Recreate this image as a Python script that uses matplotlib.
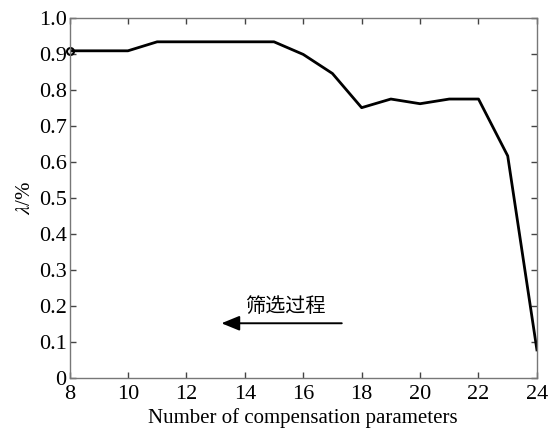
import matplotlib
matplotlib.use("Agg")
import matplotlib.pyplot as plt

plt.rcParams['font.family'] = ['Liberation Serif', 'Noto Sans CJK SC']
plt.rcParams['mathtext.fontset'] = 'stix'

# --- Datos ---
n_params = [8, 9, 10, 11, 12, 13, 14, 15, 16, 17, 18, 19, 20, 21, 22, 23, 24]
lam = [0.909, 0.909, 0.909, 0.934, 0.934, 0.934, 0.934, 0.934, 0.899, 0.846,
       0.751, 0.775, 0.762, 0.775, 0.775, 0.617, 0.078]
x_ticks = [8, 10, 12, 14, 16, 18, 20, 22, 24]
y_ticks = [0, 0.1, 0.2, 0.3, 0.4, 0.5, 0.6, 0.7, 0.8, 0.9, 1.0]
y_tick_labels = ['0', '0.1', '0.2', '0.3', '0.4', '0.5', '0.6', '0.7', '0.8', '0.9', '1.0']

fig = plt.figure(figsize=(5.49, 4.30), dpi=100)
ax = fig.add_axes([0.1266, 0.121, 0.8514, 0.837])

ax.plot(n_params, lam, color='black', linewidth=2.0)
ax.plot(n_params[0], lam[0], marker='o', markersize=5, markerfacecolor='none',
        markeredgecolor='black', markeredgewidth=1.5, clip_on=False)

ax.set_xlim(8, 24)
ax.set_ylim(0, 1.0)
ax.set_xticks(x_ticks)
ax.set_yticks(y_ticks)
ax.set_yticklabels(y_tick_labels)
ax.tick_params(direction='in', top=True, right=True, labelsize=16, length=4,
               width=1, color='#444444')
ax.tick_params(axis='x', pad=5)
ax.tick_params(axis='y', pad=2)
for s in ax.spines.values():
    s.set_color('#777777')
    s.set_linewidth(1.0)

ax.set_xlabel("Number of compensation parameters", fontsize=15, labelpad=3)
ax.set_ylabel(r"$\lambda$/%", fontsize=15, labelpad=3)

# flecha del proceso de cribado
ax.annotate("", xy=(13.2, 0.152), xytext=(17.32, 0.152),
            arrowprops=dict(arrowstyle='-|>,head_length=1.1,head_width=0.45',
                            color='black', lw=1.4, shrinkA=0, shrinkB=0))
ax.text(14.0, 0.198, "筛选过程", fontsize=14.5, family=['Noto Sans CJK SC'],
        ha='left', va='center', fontweight='light')

fig.savefig("out.png", dpi=100)
